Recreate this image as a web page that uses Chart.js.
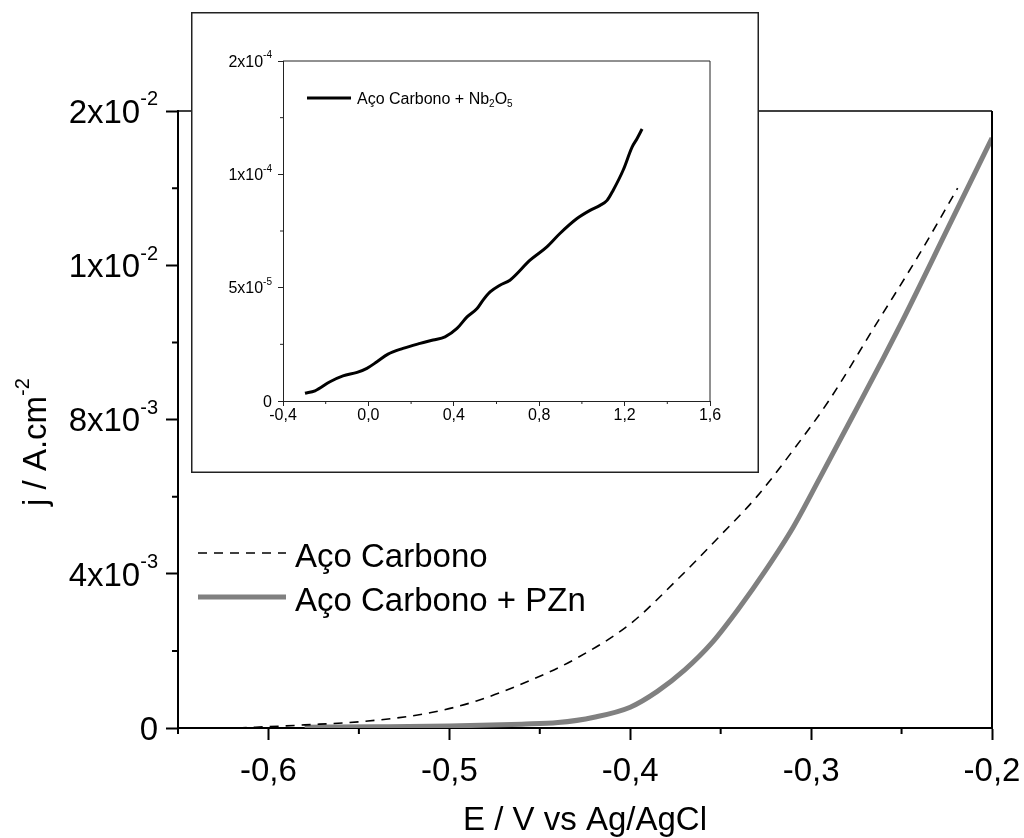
<!DOCTYPE html>
<html>
<head>
<meta charset="utf-8">
<script src="https://cdn.jsdelivr.net/npm/chart.js@4"></script>
<style>
  body { margin: 0; background: #fff; }
  #wrap { position: relative; width: 1024px; height: 838px; }
  #main { position: absolute; left: 0; top: 0; }
  #inset { position: absolute; left: 191px; top: 12px; }
</style>
</head>
<body>
<div id="wrap">
  <canvas id="main" width="1024" height="838"></canvas>
  <canvas id="inset" width="568" height="461"></canvas>
</div>
<script>
const FONT = '"Liberation Sans", Arial, sans-serif';

// main plot: Aço Carbono (dashed) and Aço Carbono + PZn (grey)
const eAco = [-0.617, -0.58, -0.545, -0.51, -0.485, -0.455, -0.43, -0.40, -0.375, -0.35, -0.33, -0.31, -0.29, -0.265, -0.24, -0.219];
const jAco = [0, 0.00008, 0.00018, 0.0004, 0.0007, 0.00124, 0.0018, 0.0027, 0.0038, 0.0050, 0.0060, 0.0072, 0.0085, 0.0104, 0.0123, 0.0140];
const ePZn = [-0.58, -0.54, -0.5, -0.46, -0.44, -0.42, -0.40, -0.385, -0.37, -0.355, -0.34, -0.325, -0.31, -0.295, -0.278, -0.26, -0.248, -0.224, -0.2];
const jPZn = [0.00002, 0.00003, 0.00005, 0.0001, 0.00014, 0.00028, 0.00054, 0.00095, 0.0015, 0.0022, 0.0031, 0.0041, 0.0052, 0.0065, 0.0080, 0.0096, 0.0107, 0.0130, 0.0153];
const mainLabels = ['Aço Carbono', 'Aço Carbono + PZn'];

const xTicks = [-0.6, -0.5, -0.4, -0.3, -0.2];
const xTickLabels = ['-0,6', '-0,5', '-0,4', '-0,3', '-0,2'];
const xMinor = [-0.65, -0.55, -0.45, -0.35, -0.25];
const yTicks = [0, 0.004, 0.008, 0.012, 0.016];
const yTickLabels = ['0', '4x10^-3', '8x10^-3', '1x10^-2', '2x10^-2'];
const yMinor = [0.002, 0.006, 0.010, 0.014];

// inset: Aço Carbono + Nb2O5
const eNb = [-0.297, -0.25, -0.18, -0.119, -0.053, -0.007, 0.04, 0.092, 0.162, 0.242, 0.303, 0.359, 0.415, 0.462, 0.509, 0.537, 0.57, 0.616, 0.663, 0.757, 0.836, 0.897, 0.977, 1.038, 1.085, 1.118, 1.146, 1.193, 1.235, 1.258, 1.282];
const jNb = [0.34e-5, 0.45e-5, 0.85e-5, 1.11e-5, 1.26e-5, 1.44e-5, 1.73e-5, 2.07e-5, 2.32e-5, 2.54e-5, 2.69e-5, 2.83e-5, 3.2e-5, 3.71e-5, 4.08e-5, 4.45e-5, 4.81e-5, 5.11e-5, 5.33e-5, 6.21e-5, 6.8e-5, 7.39e-5, 8.05e-5, 8.41e-5, 8.63e-5, 8.85e-5, 9.29e-5, 10.18e-5, 11.2e-5, 11.57e-5, 12.0e-5];

const ixTicks = [-0.4, 0, 0.4, 0.8, 1.2, 1.6];
const ixTickLabels = ['-0,4', '0,0', '0,4', '0,8', '1,2', '1,6'];
const ixMinor = [-0.2, 0.2, 0.6, 1.0, 1.4];
const iyTicks = [0, 5e-5, 1e-4, 1.5e-4];
const iyTickLabels = ['0', '5x10^-5', '1x10^-4', '2x10^-4'];
const iyMinor = [2.5e-5, 7.5e-5, 1.25e-4];

Chart.defaults.font.family = FONT;

function pts(xs, ys) {
  return xs.map((v, i) => ({ x: v, y: ys[i] }));
}

// draws text pieces: [text, 'n' | 'sup' | 'sub']
function richWidth(ctx, segs, size) {
  let w = 0;
  segs.forEach(s => {
    ctx.font = (s[1] === 'n' ? size : Math.round(size * 0.62)) + 'px ' + FONT;
    w += ctx.measureText(s[0]).width;
  });
  return w;
}
function drawRich(ctx, segs, x, y, size, align) {
  const w = richWidth(ctx, segs, size);
  let cx = align === 'right' ? x - w : align === 'center' ? x - w / 2 : x;
  ctx.textAlign = 'left';
  ctx.textBaseline = 'alphabetic';
  segs.forEach(s => {
    let dy = 0;
    if (s[1] === 'n') ctx.font = size + 'px ' + FONT;
    else ctx.font = Math.round(size * 0.62) + 'px ' + FONT;
    if (s[1] === 'sup') dy = -size * 0.53;
    if (s[1] === 'sub') dy = size * 0.2;
    ctx.fillText(s[0], cx, y + dy);
    cx += ctx.measureText(s[0]).width;
  });
}
function tickSegs(label) {
  const p = label.split('^');
  return p.length > 1 ? [[p[0], 'n'], [p[1], 'sup']] : [[p[0], 'n']];
}

function axesDecor(cfg) {
  return {
    id: 'decor',
    beforeDraw(chart) {
      const ctx = chart.ctx;
      ctx.save();
      ctx.fillStyle = '#fff';
      ctx.fillRect(0, 0, chart.width, chart.height);
      ctx.restore();
    },
    afterDraw(chart) {
      const { ctx, chartArea: a, scales: { x, y } } = chart;
      ctx.save();
      ctx.strokeStyle = cfg.frameColor;
      // top and right frame
      ctx.lineWidth = cfg.topWidth;
      ctx.beginPath();
      ctx.moveTo(a.left, a.top);
      ctx.lineTo(a.right, a.top);
      ctx.stroke();
      ctx.lineWidth = cfg.rightWidth;
      ctx.beginPath();
      ctx.moveTo(a.right, a.top);
      ctx.lineTo(a.right, a.bottom);
      ctx.stroke();
      // minor ticks
      ctx.lineWidth = cfg.minorWidth;
      ctx.beginPath();
      cfg.xMinor.forEach(v => {
        const px = x.getPixelForValue(v);
        ctx.moveTo(px, a.bottom);
        ctx.lineTo(px, a.bottom + cfg.minorLen);
      });
      cfg.yMinor.forEach(v => {
        const py = y.getPixelForValue(v);
        ctx.moveTo(a.left, py);
        ctx.lineTo(a.left - cfg.minorLen, py);
      });
      ctx.stroke();
      // tick labels
      ctx.fillStyle = '#000';
      x.ticks.forEach((t, i) => {
        drawRich(ctx, tickSegs(cfg.xLabels[i]), x.getPixelForValue(t.value), a.bottom + cfg.xLabelDy, cfg.size, 'center');
      });
      y.ticks.forEach((t, i) => {
        drawRich(ctx, tickSegs(cfg.yLabels[i]), a.left - cfg.yLabelDx, y.getPixelForValue(t.value) + cfg.size * 0.36, cfg.size, 'right');
      });
      if (cfg.extra) cfg.extra(chart);
      ctx.restore();
    }
  };
}

function scaleOpts(min, max, ticks, tickLen, width, color) {
  return {
    type: 'linear',
    min: min,
    max: max,
    afterBuildTicks: s => { s.ticks = ticks.map(v => ({ value: v })); },
    ticks: { display: false },
    grid: { display: true, drawOnChartArea: false, drawTicks: true, tickLength: tickLen, tickWidth: width, tickColor: color },
    border: { display: true, color: color, width: width }
  };
}

// ---------- main chart ----------
const mainCtx = document.getElementById('main').getContext('2d');
const mainChart = new Chart(mainCtx, {
  type: 'line',
  data: {
    datasets: [
      {
        label: mainLabels[0],
        data: pts(eAco, jAco),
        borderColor: '#000',
        borderWidth: 1.6,
        borderDash: [9, 7],
        pointRadius: 0,
        cubicInterpolationMode: 'monotone',
        fill: false
      },
      {
        label: mainLabels[1],
        data: pts(ePZn, jPZn),
        borderColor: '#808080',
        borderWidth: 5,
        pointRadius: 0,
        cubicInterpolationMode: 'monotone',
        fill: false
      }
    ]
  },
  options: {
    responsive: false,
    animation: false,
    layout: { padding: { left: 166, right: 32, top: 111, bottom: 98 } },
    plugins: { legend: { display: false }, tooltip: { enabled: false } },
    scales: {
      x: scaleOpts(-0.65, -0.2, xTicks, 12, 2, '#000'),
      y: scaleOpts(0, 0.016, yTicks, 12, 2, '#000')
    }
  },
  plugins: [axesDecor({
    frameColor: '#000', topWidth: 1.5, rightWidth: 2, minorWidth: 2, minorLen: 6,
    xMinor: xMinor, yMinor: yMinor, xLabels: xTickLabels, yLabels: yTickLabels,
    size: 33, xLabelDy: 53, yLabelDx: 20,
    extra(chart) {
      const { ctx, chartArea: a } = chart;
      // axis titles
      drawRich(ctx, [['E / V vs Ag/AgCl', 'n']], (a.left + a.right) / 2, 830, 33, 'center');
      ctx.save();
      ctx.translate(46, 442);
      ctx.rotate(-Math.PI / 2);
      drawRich(ctx, [['j / A.cm', 'n'], ['-2', 'sup']], 0, 0, 33, 'center');
      ctx.restore();
      // legend
      const ds = chart.data.datasets;
      const rows = [553, 597];
      ds.forEach((d, i) => {
        ctx.save();
        ctx.strokeStyle = d.borderColor;
        ctx.lineWidth = d.borderWidth;
        ctx.setLineDash(d.borderDash || []);
        ctx.beginPath();
        ctx.moveTo(198, rows[i]);
        ctx.lineTo(286, rows[i]);
        ctx.stroke();
        ctx.restore();
        ctx.fillStyle = '#000';
        drawRich(ctx, [[d.label, 'n']], 295, rows[i] + 14, 33, 'left');
      });
    }
  })]
});

// ---------- inset chart ----------
const insetCtx = document.getElementById('inset').getContext('2d');
const insetChart = new Chart(insetCtx, {
  type: 'line',
  data: {
    datasets: [{
      label: 'Aço Carbono + Nb2O5',
      data: pts(eNb, jNb),
      borderColor: '#000',
      borderWidth: 3,
      pointRadius: 0,
      cubicInterpolationMode: 'monotone',
      fill: false
    }]
  },
  options: {
    responsive: false,
    animation: false,
    layout: { padding: { left: 87, right: 49, top: 49, bottom: 67 } },
    plugins: { legend: { display: false }, tooltip: { enabled: false } },
    scales: {
      x: scaleOpts(-0.4, 1.6, ixTicks, 5, 1, '#222'),
      y: scaleOpts(0, 1.5e-4, iyTicks, 5, 1, '#222')
    }
  },
  plugins: [axesDecor({
    frameColor: '#222', topWidth: 1, rightWidth: 1, minorWidth: 1, minorLen: 3,
    xMinor: ixMinor, yMinor: iyMinor, xLabels: ixTickLabels, yLabels: iyTickLabels,
    size: 16, xLabelDy: 19, yLabelDx: 11,
    extra(chart) {
      const ctx = chart.ctx;
      // outer box of the inset
      ctx.strokeStyle = '#222';
      ctx.lineWidth = 1.5;
      ctx.strokeRect(0.75, 0.75, chart.width - 1.5, chart.height - 1.5);
      // legend
      ctx.strokeStyle = '#000';
      ctx.lineWidth = 3;
      ctx.beginPath();
      ctx.moveTo(116, 86);
      ctx.lineTo(160, 86);
      ctx.stroke();
      ctx.fillStyle = '#000';
      drawRich(ctx, [['Aço Carbono + Nb', 'n'], ['2', 'sub'], ['O', 'n'], ['5', 'sub']], 166, 92, 16, 'left');
    }
  })]
});
</script>
</body>
</html>
